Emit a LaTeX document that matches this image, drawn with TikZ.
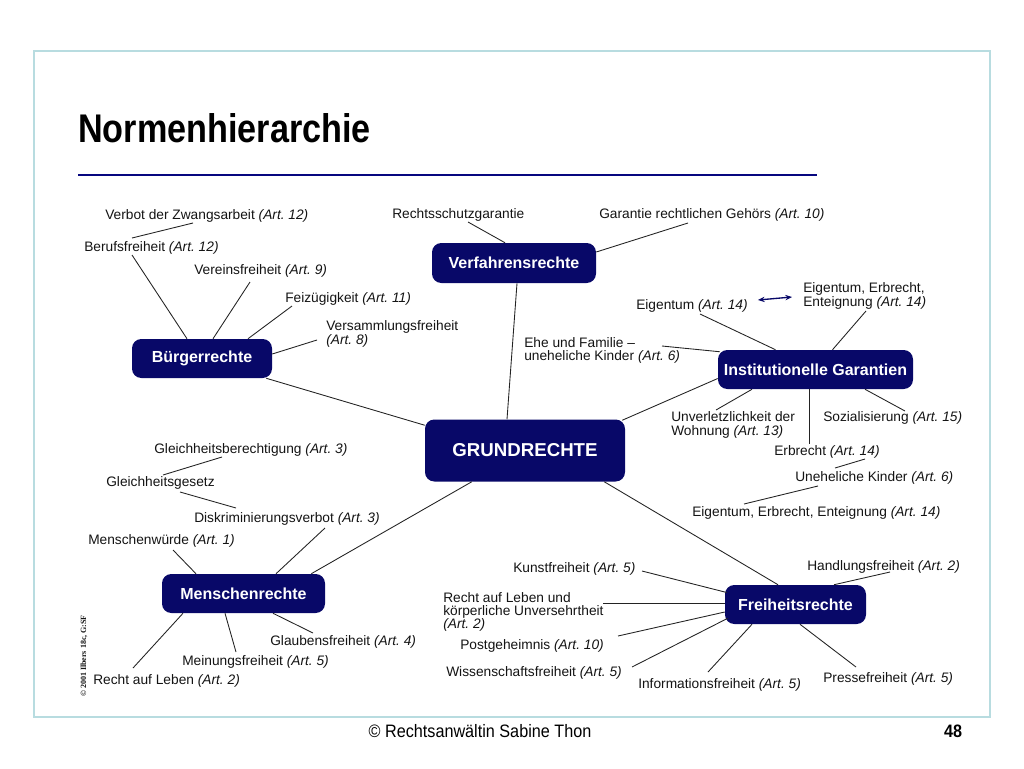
\documentclass[tikz,border=0pt]{standalone}
\usepackage{fontspec}
\setmainfont{Liberation Sans}
\newfontfamily\serifsmall{Liberation Serif}
\usetikzlibrary{calc,arrows.meta}
\definecolor{navy}{RGB}{8,8,104}
\definecolor{framecol}{RGB}{184,220,224}
\definecolor{lncol}{RGB}{35,35,35}
\definecolor{txtcol}{RGB}{20,20,20}
\newcommand\artref[1]{\textit{(Art.~#1)}}
\begin{document}
\begin{tikzpicture}[x=0.75pt,y=-0.75pt,
  box/.style={fill=navy,rounded corners=7pt,text=white,inner sep=0pt,
    font=\fontsize{12}{14}\selectfont\bfseries},
  lbl/.style={anchor=west,inner sep=0pt,align=left,text=txtcol,
    font=\fontsize{10.3}{10}\selectfont},
  ln/.style={draw=lncol,line width=0.65pt}]
\useasboundingbox (0,0) rectangle (1024,768);
\fill[white] (0,0) rectangle (1024,768);
% frame
\draw[framecol,line width=2.2pt] (34,51) rectangle (990,717);
% title
\node[anchor=base west,inner sep=0pt] (title) at (78,142)
  {\scalebox{0.855}[1]{\fontsize{30}{32}\selectfont\bfseries Normenhierarchie}};
\draw[navy!85!blue,line width=1.5pt] (78,175) -- (817,175);
% boxes
\node[box,minimum width=123pt,minimum height=30pt] (verf) at (514,263) {Verfahrensrechte};
\node[box,minimum width=105pt,minimum height=29.25pt] (buerg) at (202,358.5) {Bürgerrechte};
\node[box,minimum width=146.25pt,minimum height=29.25pt] (inst) at (815.5,369.5) {Institutionelle Garantien};
\node[box,minimum width=150pt,minimum height=46.5pt,font=\fontsize{14}{16}\selectfont\bfseries] (grund) at (525,450.5) {GRUNDRECHTE};
\node[box,minimum width=122.25pt,minimum height=29.25pt] (mensch) at (243.5,593.5) {Menschenrechte};
\node[box,minimum width=105.75pt,minimum height=29.25pt] (frei) at (795.5,604.5) {Freiheitsrechte};
% labels
\node[lbl] (zwang) at (105,216) {Verbot der Zwangsarbeit \artref{12}};
\node[lbl] (berufs) at (84,248) {Berufsfreiheit \artref{12}};
\node[lbl] (verein) at (194,271) {Vereinsfreiheit \artref{9}};
\node[lbl] (feiz) at (285,299) {Feizügigkeit \artref{11}};
\node[lbl] (versamm) at (326,334) {Versammlungsfreiheit\\\artref{8}};
\node[lbl] (rschutz) at (392,215) {Rechtsschutzgarantie};
\node[lbl] (gehoer) at (599,215) {Garantie rechtlichen Gehörs \artref{10}};
\node[lbl] (eig) at (636,306) {Eigentum \artref{14}};
\node[lbl] (eee) at (803,296) {Eigentum, Erbrecht,\\Enteignung \artref{14}};
\node[lbl] (ehe) at (524,350.5) {Ehe und Familie –\\uneheliche Kinder \artref{6}};
\node[lbl] (unverl) at (671,425) {Unverletzlichkeit der\\Wohnung \artref{13}};
\node[lbl] (sozial) at (823,418) {Sozialisierung \artref{15}};
\node[lbl] (erb) at (774,452) {Erbrecht \artref{14}};
\node[lbl] (unehel) at (795,478) {Uneheliche Kinder \artref{6}};
\node[lbl] (eeeb) at (692,513) {Eigentum, Erbrecht, Enteignung \artref{14}};
\node[lbl] (gleichb) at (154,450) {Gleichheitsberechtigung \artref{3}};
\node[lbl] (gleichg) at (106,483) {Gleichheitsgesetz};
\node[lbl] (diskr) at (194,519) {Diskriminierungsverbot \artref{3}};
\node[lbl] (mwuerde) at (88,541) {Menschenwürde \artref{1}};
\node[lbl] (glauben) at (270,642) {Glaubensfreiheit \artref{4}};
\node[lbl] (meinung) at (182,662) {Meinungsfreiheit \artref{5}};
\node[lbl] (leben) at (93,681) {Recht auf Leben \artref{2}};
\node[lbl] (kunst) at (513,569) {Kunstfreiheit \artref{5}};
\node[lbl] (handl) at (807,567) {Handlungsfreiheit \artref{2}};
\node[lbl] (lebenk) at (443,612) {Recht auf Leben und\\körperliche Unversehrtheit\\\artref{2}};
\node[lbl] (post) at (460,646) {Postgeheimnis \artref{10}};
\node[lbl] (wiss) at (446,673) {Wissenschaftsfreiheit \artref{5}};
\node[lbl] (info) at (638,685) {Informationsfreiheit \artref{5}};
\node[lbl] (presse) at (823,679) {Pressefreiheit \artref{5}};
% vertical copyright
\node[rotate=90,inner sep=0pt,text=txtcol,font=\serifsmall\fontsize{6}{6}\selectfont\bfseries] (copy) at (84,656) {© 2001 Ilbers 18c, G:SF};
% footer
\node[inner sep=0pt] (foot) at (480,731) {\scalebox{0.9}[1]{\fontsize{13.5}{15}\selectfont © Rechtsanwältin Sabine Thon}};
\node[inner sep=0pt] (page) at (953,731) {\scalebox{0.9}[1]{\fontsize{13.5}{15}\selectfont\bfseries 48}};
% connectors: Buergerrechte
\draw[ln] ($(zwang.west)+(88,7)$) -- ($(berufs.west)+(48,-10)$);
\draw[ln] ($(berufs.west)+(48,7)$) -- ($(buerg.north)+(-15,0)$);
\draw[ln] ($(verein.west)+(56,11)$) -- ($(buerg.north)+(11,0)$);
\draw[ln] ($(feiz.west)+(7,7)$) -- ($(buerg.north)+(46,0)$);
\draw[ln] ($(versamm.west)+(-9,6)$) -- ($(buerg.east)+(0,-4.5)$);
\draw[ln] ($(buerg.south east)+(-6,0)$) -- ($(grund.north west)+(0,6)$);
% Verfahrensrechte
\draw[ln] ($(rschutz.west)+(76,7)$) -- ($(verf.north)+(-9,0)$);
\draw[ln] ($(gehoer.west)+(89,8)$) -- ($(verf.east)+(0,-11)$);
\draw[ln] ($(verf.south)+(3,0)$) -- ($(grund.north)+(-18,0)$);
% Institutionelle Garantien
\draw[ln] ($(eig.west)+(64,8)$) -- ($(inst.north)+(-40,0)$);
\draw[ln] ($(eee.west)+(63,15)$) -- ($(inst.north)+(17,0)$);
\draw[navy,line width=1pt,{Stealth[length=5pt,width=4pt]}-{Stealth[length=5pt,width=4pt]}]
  ($(eig.east)+(10,-6)$) -- ($(eee.west)+(-11,1)$);
\draw[ln] ($(ehe.west)+(138,-4.5)$) -- ($(inst.north west)+(2,2)$);
\draw[ln] ($(inst.west)+(0,9)$) -- ($(grund.north east)+(-3,1)$);
\draw[ln] ($(unverl.west)+(45,-15)$) -- ($(inst.south)+(-63.5,0)$);
\draw[ln] ($(inst.south)+(-6.5,0)$) -- ($(erb.west)+(35,-8)$);
\draw[ln] ($(sozial.west)+(82,-7)$) -- ($(inst.south)+(49.5,0)$);
\draw[ln] ($(erb.west)+(91,7)$) -- ($(unehel.west)+(40,-10)$);
\draw[ln] ($(unehel.west)+(23,8)$) -- ($(eeeb.west)+(52,-9)$);
% Grundrechte
\draw[ln] ($(grund.south east)+(-21,0)$) -- ($(frei.north)+(-17.5,0)$);
\draw[ln] ($(grund.south west)+(47,0)$) -- ($(mensch.north east)+(-14,0)$);
% Menschenrechte
\draw[ln] ($(gleichb.west)+(68,7)$) -- ($(gleichg.west)+(57,-8)$);
\draw[ln] ($(gleichg.west)+(74,9)$) -- ($(diskr.west)+(42,-11)$);
\draw[ln] ($(diskr.west)+(131,9)$) -- ($(mensch.north)+(32.5,0)$);
\draw[ln] ($(mwuerde.west)+(85,9)$) -- ($(mensch.north)+(-47.5,0)$);
\draw[ln] ($(mensch.south)+(-60.5,0)$) -- ($(leben.west)+(40,-13)$);
\draw[ln] ($(mensch.south)+(-18.5,0)$) -- ($(meinung.west)+(54,-10)$);
\draw[ln] ($(mensch.south)+(29.5,0)$) -- ($(glauben.west)+(43,-9)$);
% Freiheitsrechte
\draw[ln] ($(kunst.west)+(129,2)$) -- ($(frei.west)+(2,-12)$);
\draw[ln] ($(handl.west)+(83,5)$) -- ($(frei.north)+(38.5,0)$);
\draw[ln] ($(lebenk.west)+(160,-9)$) -- ($(frei.west)+(0,-1.5)$);
\draw[ln] ($(post.west)+(158,-10)$) -- ($(frei.west)+(0,7.5)$);
\draw[ln] ($(wiss.west)+(186,-6)$) -- ($(frei.south west)+(3,-6)$);
\draw[ln] ($(frei.south)+(-43.5,0)$) -- ($(info.west)+(70,-13)$);
\draw[ln] ($(frei.south)+(4.5,0)$) -- ($(presse.west)+(33,-12)$);
\end{tikzpicture}
\end{document}
